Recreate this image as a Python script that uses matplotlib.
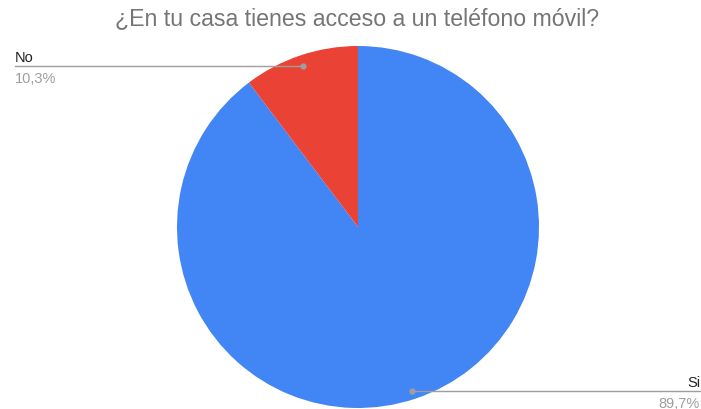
import matplotlib.pyplot as plt

labels = ['Si', 'No']
values = [89.7, 10.3]
colours = ['#4285F4', '#EA4335']
pct_text = ['89,7%', '10,3%']
title = '¿En tu casa tienes acceso a un teléfono móvil?'

plt.rcParams['font.family'] = ['Liberation Sans', 'DejaVu Sans']

W, H = 701, 410
fig = plt.figure(figsize=(W / 100, H / 100), dpi=100)
ax = fig.add_axes([0, 0, 1, 1])

# pie in pixel-like coordinates (y measured from bottom)
cx, cy, r = 358, H - 228, 181
ax.pie(values, colors=colours, startangle=90, counterclock=False,
       center=(cx, cy), radius=r, frame=True,
       wedgeprops=dict(linewidth=0))
ax.set_xlim(0, W)
ax.set_ylim(0, H)
ax.axis('off')

ax.text(357, H - 19, title, ha='center', va='center',
        fontsize=16.7, color='#757575')

# leader lines
line_col = '#9e9e9e'
ax.plot([15, 303], [H - 66.5, H - 66.5], color=line_col, lw=1)
ax.plot([303], [H - 66.5], 'o', color=line_col, ms=3.5)
ax.plot([412, 700], [H - 392, H - 392], color=line_col, lw=1)
ax.plot([412], [H - 392], 'o', color=line_col, ms=3.5)

ax.text(15, H - 62, labels[1], ha='left', va='baseline', fontsize=10.5, color='#222222')
ax.text(15, H - 83, pct_text[1], ha='left', va='baseline', fontsize=10.5, color='#9e9e9e')
ax.text(700, H - 387, labels[0], ha='right', va='baseline', fontsize=10.5, color='#222222')
ax.text(700, H - 408, pct_text[0], ha='right', va='baseline', fontsize=10.5, color='#9e9e9e')

fig.savefig('out.png', dpi=100)
